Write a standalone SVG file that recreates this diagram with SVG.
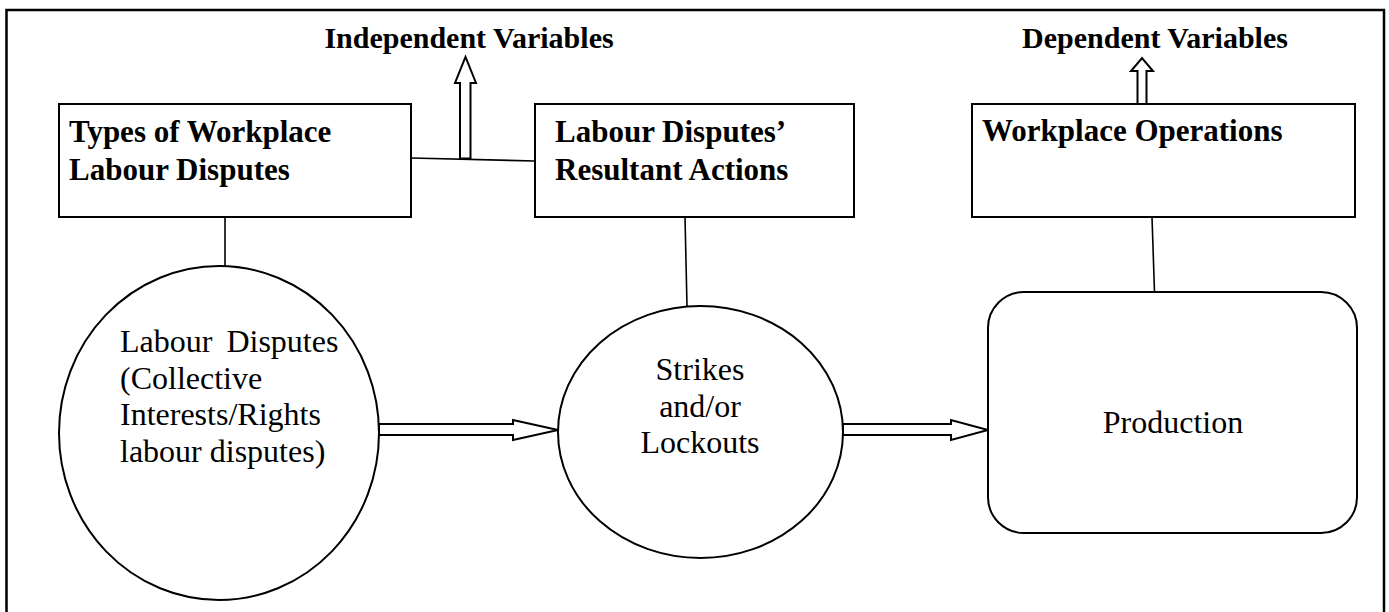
<svg xmlns="http://www.w3.org/2000/svg" width="1389" height="612" viewBox="0 0 1389 612">
  <style>
    .frame { fill: none; stroke: #000; stroke-width: 2.5; }
    .box { fill: #fff; stroke: #000; stroke-width: 2; }
    .link { fill: none; stroke: #000; stroke-width: 1.6; }
    .hollow { fill: #fff; stroke: #000; stroke-width: 2; stroke-linejoin: miter; }
    .head { font-family: "Liberation Serif", "Times New Roman", serif; font-weight: bold; font-size: 30px; fill: #000; }
    .title { font-family: "Liberation Serif", "Times New Roman", serif; font-weight: bold; font-size: 31px; fill: #000; }
    .label { font-family: "Liberation Serif", "Times New Roman", serif; font-size: 32px; fill: #000; }
  </style>

  <rect width="1389" height="612" fill="#fff"/>

  <!-- outer frame (open at the bottom edge) -->
  <path class="frame" d="M6.5,612 V10 H1384 V612"/>

  <!-- group headings -->
  <text class="head" x="469" y="48" text-anchor="middle">Independent Variables</text>
  <text class="head" x="1155" y="48" text-anchor="middle">Dependent Variables</text>

  <g id="connectors">
    <line class="link" x1="411" y1="158" x2="535" y2="161"/>
    <line class="link" x1="225" y1="217" x2="225" y2="266"/>
    <line class="link" x1="685" y1="217" x2="687" y2="306"/>
    <line class="link" x1="1152" y1="217" x2="1154.5" y2="292"/>
    <!-- hollow arrows up to the headings -->
    <path class="hollow" d="M460,158.5 V83 H455 L465.5,57 L476,83 H470.5 V158.5 Z"/>
    <path class="hollow" d="M1137.5,104 V71 H1131 L1142,58 L1153,71 H1146.5 V104 Z"/>
    <!-- hollow flow arrows -->
    <path class="hollow" d="M379,424 H513 V420 L558,430 L513,440 V435 H379 Z"/>
    <path class="hollow" d="M843,424 H951 V420 L988,430 L951,440 V435 H843 Z"/>
  </g>

  <g id="types-of-disputes">
    <rect class="box" x="59" y="104" width="352" height="113"/>
    <text class="title" x="69" y="142">Types of Workplace</text>
    <text class="title" x="69" y="180">Labour Disputes</text>
  </g>

  <g id="resultant-actions">
    <rect class="box" x="535" y="104" width="319" height="113"/>
    <text class="title" x="555" y="142">Labour Disputes’</text>
    <text class="title" x="555" y="180">Resultant Actions</text>
  </g>

  <g id="workplace-operations">
    <rect class="box" x="972" y="104" width="383" height="113"/>
    <text class="title" x="982" y="141">Workplace Operations</text>
  </g>

  <g id="labour-disputes">
    <ellipse class="box" cx="219" cy="433" rx="160" ry="167"/>
    <text class="label" x="120" y="352" word-spacing="6">Labour Disputes</text>
    <text class="label" x="120" y="389">(Collective</text>
    <text class="label" x="120" y="425">Interests/Rights</text>
    <text class="label" x="120" y="462">labour disputes)</text>
  </g>

  <g id="strikes-lockouts">
    <ellipse class="box" cx="700.5" cy="432" rx="142.5" ry="126"/>
    <text class="label" x="700" y="380" text-anchor="middle">Strikes</text>
    <text class="label" x="700" y="417" text-anchor="middle">and/or</text>
    <text class="label" x="700" y="453" text-anchor="middle">Lockouts</text>
  </g>

  <g id="production">
    <rect class="box" x="988" y="292" width="369" height="241" rx="36" ry="36"/>
    <text class="label" x="1173" y="433" text-anchor="middle">Production</text>
  </g>
</svg>
